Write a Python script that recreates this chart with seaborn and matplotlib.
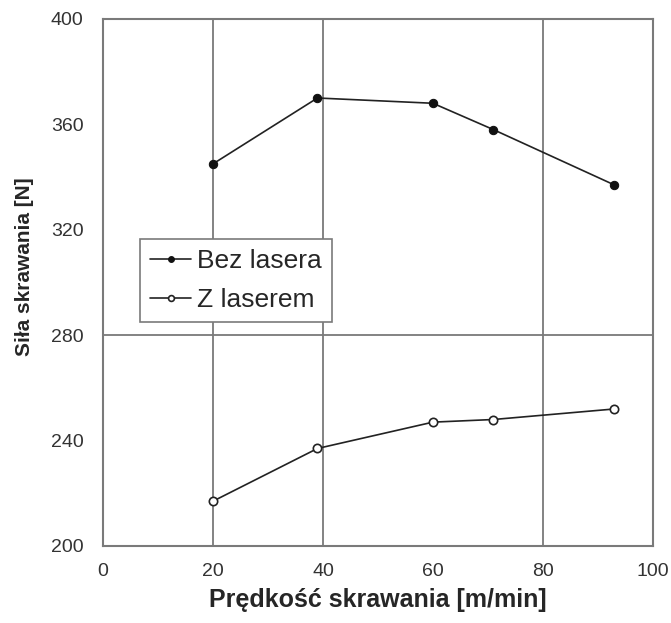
import matplotlib.pyplot as plt
import pandas as pd
import seaborn as sns

# cutting speed [m/min] and cutting force [N]
speed = [20, 39, 60, 71, 93]
force_no_laser = [345, 370, 368, 358, 337]
force_laser = [217, 237, 247, 248, 252]

x_ticks = [0, 20, 40, 60, 80, 100]
y_ticks = [200, 240, 280, 320, 360, 400]
grid_x = [20, 40, 80]
grid_y = [280]

sns.set_style("white")
plt.rcParams["font.family"] = ["Liberation Sans", "DejaVu Sans"]

df = pd.DataFrame({
    "speed": speed * 2,
    "force": force_no_laser + force_laser,
    "series": ["Bez lasera"] * len(speed) + ["Z laserem"] * len(speed),
})

fig = plt.figure(figsize=(6.71, 6.23), dpi=100)
ax = fig.add_axes([0.1535, 0.1236, 0.8195, 0.846])

for gx in grid_x:
    ax.axvline(gx, color="#7a7a7a", lw=1.3, zorder=1)
for gy in grid_y:
    ax.axhline(gy, color="#7a7a7a", lw=1.3, zorder=1)

sns.lineplot(data=df[df.series == "Bez lasera"], x="speed", y="force",
             ax=ax, color="#222222", lw=1.2, marker="o", markersize=6,
             markerfacecolor="#111111", markeredgecolor="#111111",
             label="Bez lasera", zorder=3)
sns.lineplot(data=df[df.series == "Z laserem"], x="speed", y="force",
             ax=ax, color="#222222", lw=1.2, marker="o", markersize=6,
             markerfacecolor="white", markeredgecolor="#222222",
             markeredgewidth=1.2, label="Z laserem", zorder=3)

ax.set_xlim(0, 100)
ax.set_ylim(200, 400)
ax.set_xticks(x_ticks)
ax.set_yticks(y_ticks)
ax.tick_params(direction="in", length=5, width=1.2, color="#555555",
               labelsize=14, labelcolor="#333333", pad=14)
ax.tick_params(axis="x", pad=12)

for sp in ax.spines.values():
    sp.set_color("#7a7a7a")
    sp.set_linewidth(1.5)

ax.set_xlabel("Prędkość skrawania [m/min]", fontsize=18, fontweight="bold",
              labelpad=6)
ax.set_ylabel("Siła skrawania [N]", fontsize=15, fontweight="bold")
ax.yaxis.set_label_coords(-0.125, 0.53)

leg = ax.legend(loc="upper left", bbox_to_anchor=(0.067, 0.583),
                borderaxespad=0, fancybox=False, framealpha=1,
                edgecolor="#7a7a7a", fontsize=19, handlelength=1.55,
                handletextpad=0.2, borderpad=0.4, labelspacing=0.55,
                markerscale=0.7)
leg.get_frame().set_linewidth(1.2)

fig.savefig("out.png", dpi=100)
